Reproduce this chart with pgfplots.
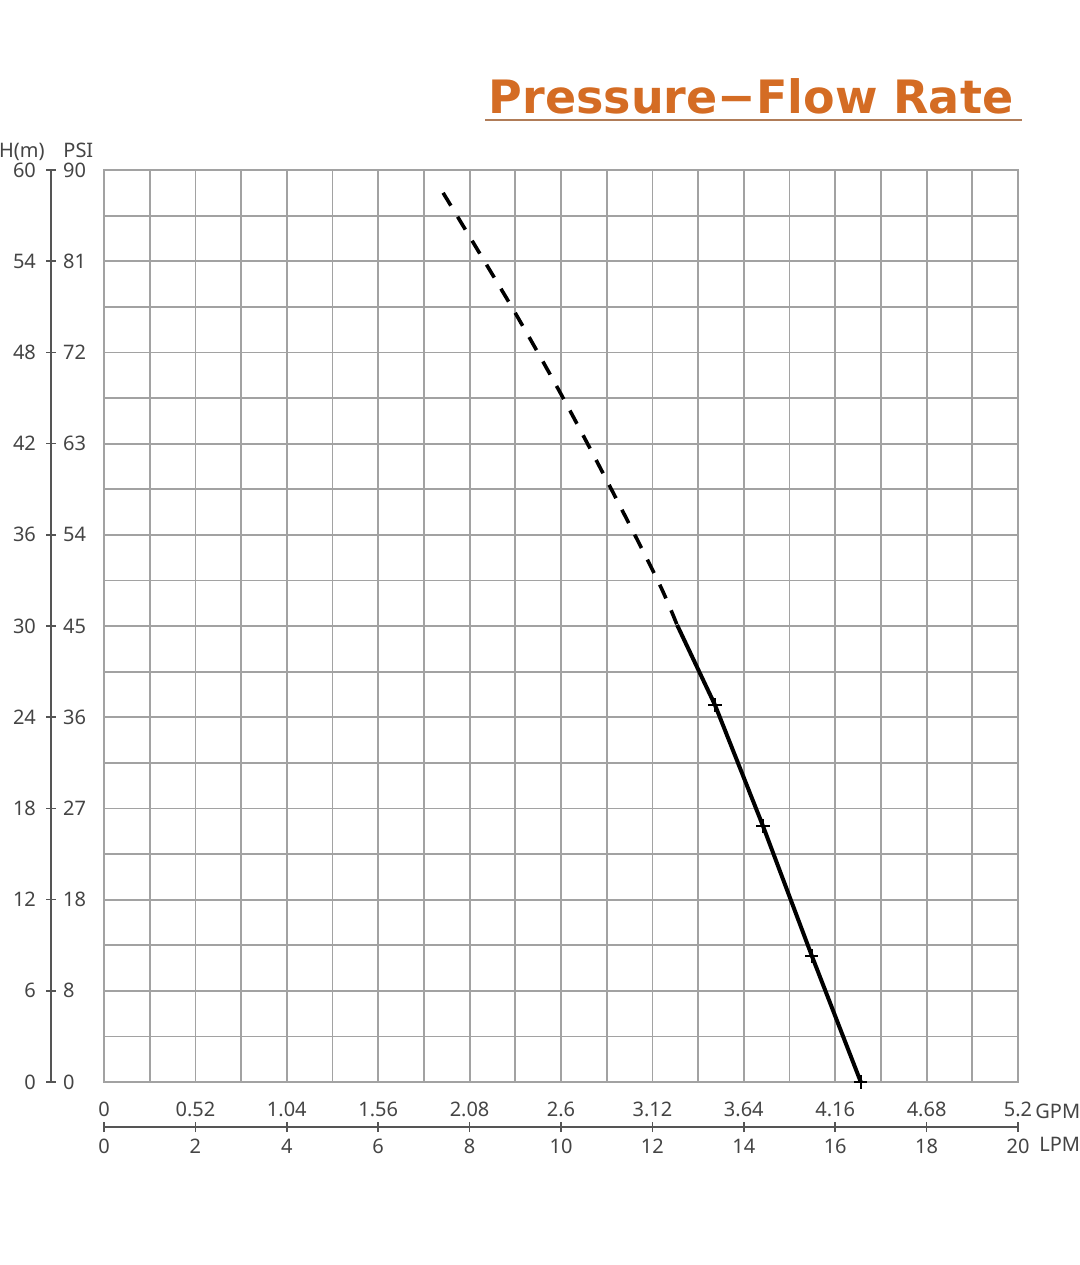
\documentclass[border=0pt]{standalone}
\usepackage{fontspec}
\setmainfont{Noto Sans}
\newfontfamily\titlefont{DejaVu Sans}
\usepackage{pgfplots}
\pgfplotsset{compat=1.18}
\definecolor{gridgray}{RGB}{162,162,162}
\definecolor{labgray}{RGB}{68,68,68}
\definecolor{axgray}{RGB}{85,85,85}
\definecolor{titleorange}{RGB}{212,108,36}
\definecolor{ulcolor}{RGB}{176,124,88}
\begin{document}
\begin{tikzpicture}
\pgfplotsset{
  scaleax/.style={scale only axis, clip=false, tick align=center, major tick length=5pt,
    axis line style={axgray, line width=0.8pt}, tick style={axgray, line width=0.8pt},
    ticklabel style={font=\fontsize{10}{12}\selectfont, text=labgray}},
}
% main grid and curve
\begin{axis}[at={(0pt,0pt)}, anchor=south west, scale only axis, width=457pt, height=456pt,
  xmin=0, xmax=20, ymin=0, ymax=60,
  xtick={0,1,...,20}, ytick={0,3,...,60},
  xticklabels={}, yticklabels={}, major tick length=0pt,
  grid=major, grid style={gridgray, line width=0.9pt},
  axis line style={gridgray, line width=0.9pt},
  clip=false]
\addplot[black, line width=1.8pt, dash pattern=on 7.5pt off 6.5pt, smooth] coordinates {
  (7.42,58.5) (8.92,51.0) (10.05,44.98) (11.11,38.95) (12.13,32.91) (12.54,30.07)};
\addplot[black, line width=2pt] coordinates {
  (12.54,30.07) (13.37,24.8) (14.42,16.84) (15.49,8.29) (16.56,0)};
\addplot[only marks, mark=+, mark size=3.3pt, mark options={line width=0.9pt, black}] coordinates {
  (13.37,24.8) (14.42,16.84) (15.49,8.29) (16.56,0)};
\end{axis}
% left scale: H(m)
\begin{axis}[scaleax, at={(-26.5pt,0pt)}, anchor=south west, width=1pt, height=456pt,
  xmin=0, xmax=1, ymin=0, ymax=60, axis x line=none, axis y line*=left,
  ytick={0,6,...,60}, yticklabels={0,6,12,18,24,30,36,42,48,54,60},
  yticklabel style={xshift=-1.5pt}]
\node[anchor=base east, font=\fontsize{10}{12}\selectfont, text=labgray, inner sep=0pt,
  xshift=-3pt, yshift=6pt] at (rel axis cs:0,1) {H(m)};
\end{axis}
% left scale: PSI
\begin{axis}[scaleax, at={(-26.5pt,0pt)}, anchor=south east, width=1pt, height=456pt,
  xmin=0, xmax=1, ymin=0, ymax=60, axis x line=none, axis y line*=right,
  ytick={0,6,...,60}, yticklabels={0,8,18,27,36,45,54,63,72,81,90}]
\node[anchor=base west, font=\fontsize{10}{12}\selectfont, text=labgray, inner sep=0pt,
  xshift=6pt, yshift=6pt] at (rel axis cs:1,1) {PSI};
\end{axis}
% bottom scale: LPM
\begin{axis}[scaleax, at={(0pt,-22.5pt)}, anchor=south west, width=457pt, height=1pt,
  xmin=0, xmax=20, ymin=0, ymax=1, axis y line=none, axis x line*=bottom,
  xtick={0,2,...,20}, xticklabels={0,2,4,6,8,10,12,14,16,18,20}]
\node[anchor=west, font=\fontsize{10}{12}\selectfont, text=labgray, inner sep=0pt,
  xshift=10.5pt, yshift=-8.5pt] at (rel axis cs:1,0) {LPM};
\end{axis}
% bottom scale: GPM
\begin{axis}[scaleax, at={(0pt,-22.5pt)}, anchor=north west, width=457pt, height=1pt,
  xmin=0, xmax=20, ymin=0, ymax=1, axis y line=none, axis x line*=top,
  xtick={0,2,...,20}, xticklabels={0,0.52,1.04,1.56,2.08,2.6,3.12,3.64,4.16,4.68,5.2},
  xticklabel style={yshift=-1pt}]
\node[anchor=west, font=\fontsize{10}{12}\selectfont, text=labgray, inner sep=0pt,
  xshift=8.5pt, yshift=7.7pt] at (rel axis cs:1,1) {GPM};
\end{axis}
% title
\node[font=\titlefont\bfseries\fontsize{23}{28}\selectfont, text=titleorange, inner sep=0pt]
  at (323.5pt,493pt) {Pressure−Flow Rate};
\draw[ulcolor, line width=1pt] (190.5pt,481pt) -- (459pt,481pt);
\pgfresetboundingbox
\useasboundingbox (-52pt,-91.5pt) rectangle (488pt,541pt);
\end{tikzpicture}
\end{document}
